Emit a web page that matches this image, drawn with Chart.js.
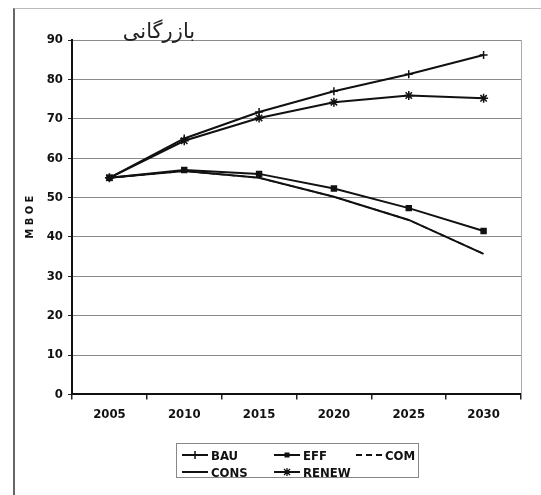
<!DOCTYPE html>
<html><head><meta charset="utf-8">
<script src="https://cdn.jsdelivr.net/npm/chart.js@4"></script>
<style>
html,body{margin:0;padding:0;background:#fff;}
#wrap{position:relative;width:541px;height:495px;overflow:hidden;}
#frame{position:absolute;left:13px;top:8px;width:540px;height:520px;border-left:2px solid #666;border-top:1px solid #bbb;}
#c{position:absolute;left:0;top:0;}
#title{position:absolute;left:104px;top:19px;width:110px;text-align:center;direction:rtl;font-family:"DejaVu Sans";font-size:21px;color:#222;}
#legend{position:absolute;left:176px;top:443px;width:241px;height:33px;border:1px solid #888;overflow:hidden;font-family:"DejaVu Sans Condensed","DejaVu Sans";font-stretch:condensed;font-weight:bold;font-size:13px;color:#111;}
.item{position:absolute;display:flex;align-items:center;height:16px;}
.item svg{margin-right:2px;}
</style></head>
<body><div id="wrap"><div id="frame"></div><canvas id="c" width="541" height="495"></canvas><div id="title">بازرگانی</div><div id="legend"></div></div>
<script>
const years = ['2005','2010','2015','2020','2025','2030'];
const bau   = [55, 65, 71.7, 77, 81.3, 86.2];
const eff   = [55, 57, 56, 52.3, 47.3, 41.5];
const com   = [55, 56.7, 55, 50.2, 44.3, 35.7];
const cons  = [55, 56.7, 55, 50.2, 44.3, 35.7];
const renew = [55, 64.4, 70.2, 74.2, 75.9, 75.2];
const yTicks = [0,10,20,30,40,50,60,70,80,90];
const yTitle = 'M B O E';

const series = [
  {label:'BAU', data:bau, pointStyle:'cross', pointRadius:4, borderWidth:2, dash:[]},
  {label:'EFF', data:eff, pointStyle:'rect', pointRadius:3.5, borderWidth:2, dash:[]},
  {label:'COM', data:com, pointStyle:false, pointRadius:0, borderWidth:1.5, dash:[6,4]},
  {label:'CONS', data:cons, pointStyle:false, pointRadius:0, borderWidth:2, dash:[]},
  {label:'RENEW', data:renew, pointStyle:'star', pointRadius:4.5, borderWidth:2, dash:[]}
];

const tickFont = {family:'"DejaVu Sans Condensed", "DejaVu Sans"', weight:'bold', size:13};

new Chart(document.getElementById('c'), {
  type:'line',
  data:{labels:years, datasets:series.map(s=>({
    label:s.label, data:s.data, borderColor:'#111', backgroundColor:'#111',
    borderWidth:s.borderWidth, borderDash:s.dash, pointStyle:s.pointStyle,
    pointRadius:s.pointRadius, pointBorderWidth:1.5, tension:0, fill:false
  }))},
  options:{
    responsive:false, animation:false,
    layout:{padding:{left:24, right:20, top:40, bottom:66}},
    plugins:{legend:{display:false}, tooltip:{enabled:false}},
    scales:{
      x:{offset:true,
        grid:{display:true, offset:true, drawOnChartArea:false, color:'#222', tickLength:5, lineWidth:1.5},
        border:{display:true, color:'#111', width:2},
        ticks:{font:tickFont, color:'#111', padding:7, maxRotation:0}
      },
      y:{min:0, max:90, afterBuildTicks:(sc)=>{sc.ticks=yTicks.map(v=>({value:v}));},
        grid:{color:'#8a8a8a', lineWidth:1, tickLength:4, tickColor:'#222'},
        border:{display:true, color:'#111', width:2},
        ticks:{font:tickFont, color:'#111', padding:5},
        title:{display:true, text:yTitle, font:{family:'"DejaVu Sans Condensed", "DejaVu Sans"', weight:'bold', size:11}, color:'#111', padding:{top:0,bottom:4}},
        afterFit:(sc)=>{sc.width=48;}
      }
    }
  },
  plugins:[{id:'rightEdge', afterDraw(ch){const a=ch.chartArea,c=ch.ctx;c.save();c.strokeStyle='#aaa';c.lineWidth=1;c.beginPath();c.moveTo(a.right+0.5,a.top);c.lineTo(a.right+0.5,a.bottom);c.stroke();c.restore();}}]
});

// legend built from series
const pos = [[4,3],[96,3],[178,3],[4,20],[96,20]];
const lg = document.getElementById('legend');
series.forEach((s,i)=>{
  const d=document.createElement('div'); d.className='item';
  d.style.left=pos[i][0]+'px'; d.style.top=pos[i][1]+'px';
  let mk='';
  if(s.pointStyle==='cross') mk='<path d="M14 4V12M10 8H18" stroke="#111" stroke-width="1.5"/>';
  if(s.pointStyle==='rect') mk='<rect x="11.5" y="5.5" width="5" height="5" fill="#111"/>';
  if(s.pointStyle==='star') mk='<path d="M14 4V12M10 8H18M11 5L17 11M17 5L11 11" stroke="#111" stroke-width="1.3"/>';
  const dash = s.dash.length? 'stroke-dasharray="6 4"':'';
  d.innerHTML='<svg width="28" height="16"><line x1="1" y1="8" x2="27" y2="8" stroke="#111" stroke-width="2" '+dash+'/>'+mk+'</svg><span>'+s.label+'</span>';
  lg.appendChild(d);
});
</script></body></html>
